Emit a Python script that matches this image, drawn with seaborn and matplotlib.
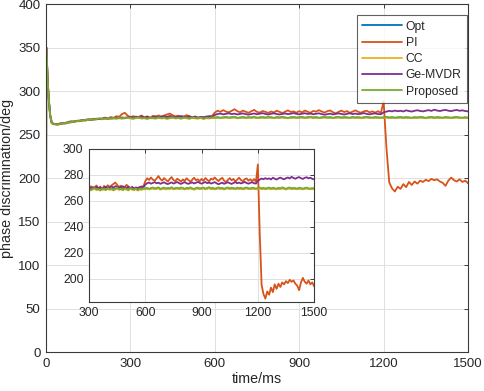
import numpy as np
import pandas as pd
import matplotlib
matplotlib.use("Agg")
import matplotlib.pyplot as plt
import seaborn as sns

# sample times (ms)
time_ms = [0, 1, 3, 6, 10, 15, 20, 25, 30] + list(range(40, 1501, 10))

opt = [0, 350, 337, 311, 289, 271, 263.5, 262.0, 261.8,
       261.5, 262.0, 262.7, 263.1, 263.8, 264.2, 264.9, 265.3, 265.8, 266.1,
       266.6, 266.9, 267.3, 267.1, 267.8, 268.1, 267.7, 268.2, 268.6, 268.3,
       268.8, 268.5, 268.9, 268.6, 268.9, 269.1,
       269.2, 268.8, 269.4, 269.6, 269.0, 269.3, 268.7, 269.5, 269.1, 268.9,
       269.5, 269.0, 269.3, 268.8, 269.2, 269.6, 269.0, 269.3, 268.9, 269.4,
       269.2, 268.8, 269.5, 269.1, 268.9, 269.4, 268.8, 269.3, 269.0, 269.4,
       269.3, 269.6, 269.1, 269.5, 269.8, 269.2, 269.5, 269.9, 269.0, 269.4,
       269.7, 269.1, 269.6, 269.3, 269.9, 269.1, 269.4, 269.7, 269.2, 269.7,
       269.5, 269.0, 269.6, 269.3, 269.8, 269.3, 269.0, 269.5, 269.7, 269.2,
       269.5, 269.8, 269.1, 269.5, 269.9, 269.3, 269.6, 269.0, 269.4, 269.8,
       269.3, 269.6, 269.0, 269.5, 269.8, 269.2, 269.6, 269.4, 269.1, 269.7,
       269.3, 269.6, 269.0, 269.5, 269.8, 269.3, 269.1, 269.6, 269.4, 269.1,
       269.5, 269.8, 269.2, 269.6, 269.1, 269.4, 269.7, 269.1, 269.6, 269.3,
       269.0, 269.5, 269.2, 269.8, 269.4, 269.0, 269.5, 269.8, 269.1, 269.6,
       269.3, 269.1, 269.6, 269.4, 269.0, 269.5, 269.7, 269.2, 269.1, 269.4,
       269.1]

pi = [0, 350, 338, 313, 291, 273, 265, 262.5, 262.3,
      261.5, 262.8, 263.1, 262.5, 264.6, 265.3, 264.4, 266.0, 265.2, 266.8,
      265.9, 267.3, 266.5, 268.1, 267.4, 268.6, 267.8, 269.5, 268.3, 270.1,
      269.2, 271.0, 270.3, 273.4, 275.0, 271.8,
      269.8, 271.2, 268.9, 270.5, 271.8, 269.4, 270.9, 268.7, 271.5, 270.2,
      272.0, 270.6, 271.9, 273.0, 274.1, 272.2, 270.8, 271.6, 269.9, 270.7,
      272.3, 271.0, 269.5, 270.8, 268.6, 270.2, 268.9, 269.6, 270.4, 271.3,
      275.2, 277.4, 276.1, 278.0, 276.3, 275.5, 277.2, 279.1, 276.8, 275.6,
      277.5, 276.2, 274.9, 276.8, 278.3, 276.0, 275.2, 277.0, 276.1, 274.8,
      276.5, 275.3, 277.4, 276.0, 274.7, 276.3, 277.8, 275.9, 276.6, 275.1,
      276.9, 275.4, 277.6, 276.2, 275.0, 277.1, 276.3, 278.0, 276.5, 275.2,
      276.8, 277.7, 275.6, 274.3, 276.1, 277.5, 275.8, 276.9, 274.9, 276.4,
      277.8, 276.0, 275.1, 276.7, 277.3, 275.5, 276.6, 275.2, 276.8, 274.6,
      288.0, 235.0, 195.0, 188.0, 184.5, 190.0, 187.5, 193.0, 189.5, 195.5,
      192.0, 196.0, 193.5, 197.0, 195.5, 198.0, 196.5, 199.0, 197.5, 198.5,
      196.0, 194.5, 191.0, 197.0, 200.5, 197.5, 196.0, 198.5, 195.5, 197.0,
      194.0]

cc = [0, 350, 337, 311, 289, 271, 263.5, 261.8, 261.6,
      261.3, 261.8, 262.5, 263.0, 263.6, 264.1, 264.7, 265.2, 265.6, 266.0,
      266.4, 266.8, 267.1, 267.0, 267.6, 267.9, 267.5, 268.0, 268.4, 268.1,
      268.6, 268.3, 268.7, 268.4, 268.6, 268.9,
      268.5, 268.0, 268.8, 269.2, 268.3, 268.6, 267.9, 268.9, 268.5, 268.2,
      269.1, 268.4, 268.8, 268.0, 268.7, 269.3, 268.4, 268.8, 268.1, 269.0,
      268.6, 268.0, 269.2, 268.5, 268.3, 268.9, 267.9, 268.7, 268.4, 269.0,
      268.9, 269.4, 268.7, 269.2, 269.6, 268.9, 269.3, 269.7, 268.6, 269.1,
      269.5, 268.8, 269.4, 269.0, 269.8, 268.8, 269.2, 269.5, 268.9, 269.6,
      269.3, 268.7, 269.4, 269.1, 269.7, 269.0, 268.6, 269.3, 269.6, 268.9,
      269.2, 269.6, 268.8, 269.3, 269.8, 269.0, 269.5, 268.8, 269.2, 269.7,
      269.1, 269.4, 268.7, 269.3, 269.7, 268.9, 269.5, 269.2, 268.9, 269.6,
      269.0, 269.4, 268.8, 269.3, 269.7, 269.1, 268.9, 269.5, 269.2, 268.8,
      269.3, 269.7, 269.0, 269.4, 268.9, 269.2, 269.6, 268.9, 269.5, 269.1,
      268.8, 269.4, 269.0, 269.7, 269.2, 268.7, 269.3, 269.7, 268.9, 269.4,
      269.1, 268.9, 269.5, 269.2, 268.8, 269.3, 269.6, 269.0, 268.9, 269.2,
      268.9]

ge_mvdr = [0, 350, 338, 312, 290, 272, 264, 262.3, 262.1,
           261.8, 262.4, 263.0, 263.5, 264.1, 264.6, 265.0, 265.7, 266.1, 266.5,
           266.9, 267.4, 267.1, 267.8, 268.2, 267.6, 268.5, 268.9, 268.3, 269.0,
           268.7, 269.4, 268.9, 269.6, 269.2, 269.8,
           270.1, 269.3, 270.6, 269.8, 270.9, 269.6, 270.4, 269.1, 270.2, 270.8,
           269.7, 270.5, 271.0, 270.2, 271.3, 270.6, 269.9, 270.7, 271.2, 270.4,
           270.0, 270.8, 269.8, 270.5, 269.5, 270.3, 269.9, 270.6, 271.1, 270.4,
           272.5, 273.6, 274.1, 273.2, 273.8, 274.4, 273.5, 274.0, 273.1, 273.7,
           274.3, 273.4, 272.9, 273.6, 274.2, 273.3, 273.9, 274.5, 273.6, 273.0,
           273.8, 274.4, 273.5, 273.1, 273.7, 274.2, 273.4, 273.9, 274.6, 273.8,
           273.2, 273.9, 274.5, 273.6, 274.1, 273.3, 273.8, 274.4, 273.5, 272.8,
           273.4, 274.0, 273.1, 273.7, 274.3, 273.6, 273.0, 273.8, 274.4, 273.5,
           274.1, 273.4, 273.9, 274.6, 273.7, 273.2, 273.9, 274.3, 273.5, 273.3,
           275.5, 276.4, 277.2, 276.6, 277.5, 276.8, 277.3, 276.5, 277.8, 277.0,
           276.4, 277.3, 277.9, 277.1, 276.6, 277.4, 278.0, 277.2, 278.5, 277.6,
           277.0, 277.8, 278.3, 277.4, 276.9, 277.7, 278.2, 277.3, 277.8, 277.0,
           276.6]

proposed = [0, 350, 338, 312, 290, 272, 264, 262, 262,
            261.5, 262.0, 262.8, 263.2, 264.0, 264.3, 265.1, 265.4, 266.0, 266.2,
            266.8, 267.0, 267.5, 267.2, 268.0, 268.3, 267.8, 268.4, 268.9, 268.5,
            269.0, 268.6, 269.2, 268.8, 269.1, 269.4,
            269.0, 268.4, 269.3, 269.8, 268.7, 269.1, 268.2, 269.5, 269.0, 268.6,
            269.7, 268.9, 269.4, 268.3, 269.2, 269.9, 268.8, 269.3, 268.5, 269.6,
            269.1, 268.4, 269.8, 269.0, 268.7, 269.5, 268.2, 269.3, 268.9, 269.6,
            269.4, 270.0, 269.2, 269.8, 270.3, 269.5, 269.9, 270.4, 269.1, 269.7,
            270.2, 269.4, 270.0, 269.6, 270.5, 269.3, 269.8, 270.1, 269.5, 270.3,
            269.9, 269.2, 270.0, 269.7, 270.4, 269.6, 269.1, 269.9, 270.2, 269.5,
            269.8, 270.2, 269.4, 269.9, 270.5, 269.6, 270.1, 269.3, 269.8, 270.3,
            269.7, 270.0, 269.2, 269.9, 270.4, 269.5, 270.1, 269.8, 269.4, 270.2,
            269.6, 270.0, 269.3, 269.9, 270.3, 269.7, 269.5, 270.1, 269.8, 269.4,
            269.9, 270.3, 269.6, 270.0, 269.4, 269.8, 270.2, 269.5, 270.1, 269.7,
            269.3, 270.0, 269.6, 270.4, 269.8, 269.2, 269.9, 270.3, 269.5, 270.0,
            269.7, 269.4, 270.1, 269.8, 269.3, 269.9, 270.2, 269.6, 269.4, 269.8,
            269.5]

labels = ["Opt", "PI", "CC", "Ge-MVDR", "Proposed"]
colors = ["#0072BD", "#D95319", "#EDB120", "#7E2F8E", "#77AC30"]

df = pd.DataFrame({"time": time_ms, "Opt": opt, "PI": pi, "CC": cc,
                   "Ge-MVDR": ge_mvdr, "Proposed": proposed})
long_df = df.melt(id_vars="time", var_name="method", value_name="phase")

sns.set_style("whitegrid")
plt.rcParams["font.family"] = ["Liberation Sans", "DejaVu Sans"]
plt.rcParams["font.size"] = 10

fig = plt.figure(figsize=(4.84, 3.91), dpi=100)
ax = fig.add_axes([0.095, 0.0997, 0.872, 0.890])
ins = fig.add_axes([0.184, 0.228, 0.465, 0.391])

for a, fs in ((ax, 9.5), (ins, 8.7)):
    sns.lineplot(data=long_df, x="time", y="phase", hue="method",
                 hue_order=labels, palette=colors, linewidth=1.3,
                 ax=a, legend=(a is ax))
    a.set_facecolor("white")
    a.grid(True, color="#e0e0e0", linewidth=0.7)
    for s in a.spines.values():
        s.set_color("#3a3a3a")
        s.set_linewidth(0.8)
    a.tick_params(direction="in", top=True, right=True, length=3,
                  width=0.7, color="#3a3a3a", labelcolor="#262626",
                  labelsize=fs, pad=4)
    a.set_xlabel("")
    a.set_ylabel("")

ax.set_xlim(0, 1500)
ax.set_ylim(0, 400)
ax.set_xticks(range(0, 1501, 300))
ax.set_yticks(range(0, 401, 50))
ax.set_xlabel("time/ms", color="#262626", fontsize=10.3, labelpad=2)
ax.set_ylabel("phase discrimination/deg", color="#262626", fontsize=10.3,
              labelpad=3)

ins.set_xlim(300, 1500)
ins.set_ylim(182, 300)
ins.set_xticks(range(300, 1501, 300))
ins.set_yticks(range(200, 301, 20))

leg = ax.legend(loc="upper right", bbox_to_anchor=(0.998, 0.968),
                borderaxespad=0, frameon=True, fancybox=False,
                edgecolor="#3a3a3a", handlelength=3.3, labelspacing=0.35,
                borderpad=0.45, handletextpad=0.3, fontsize=8.7)
leg.get_frame().set_linewidth(0.8)

fig.savefig("out.png", dpi=100)
